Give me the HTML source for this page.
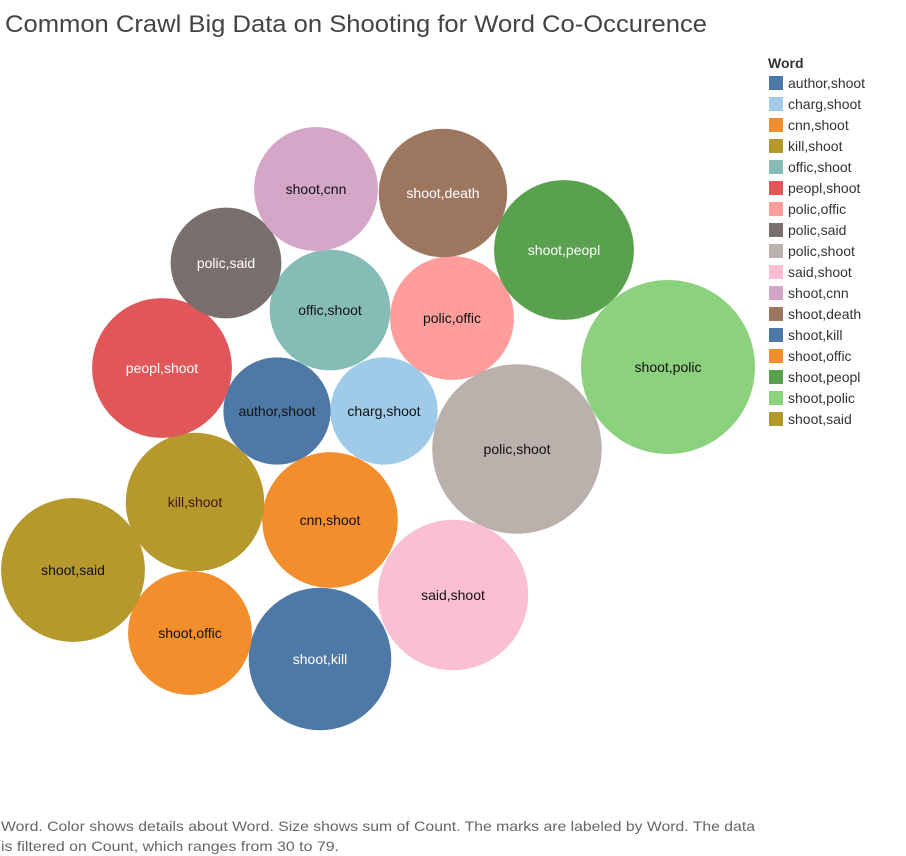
<!DOCTYPE html>
<html><head><meta charset="utf-8">
<style>
body{margin:0;background:#fff;width:906px;height:856px;overflow:hidden;font-family:"Liberation Sans",Arial,sans-serif;}
svg{display:block}
</style></head>
<body>
<svg id="chart" width="906" height="856" viewBox="0 0 906 856">
<text x="5" y="32" font-size="24" fill="#444" textLength="702" lengthAdjust="spacingAndGlyphs" font-family="Liberation Sans, sans-serif">Common Crawl Big Data on Shooting for Word Co-Occurence</text>
<g id="bubbles"></g>
<g id="legend">
<text x="768" y="68" font-size="14" font-weight="bold" fill="#333">Word</text>
</g>
<text x="1" y="831" font-size="14" fill="#666" textLength="754" lengthAdjust="spacingAndGlyphs">Word.  Color shows details about Word.  Size shows sum of Count.  The marks are labeled by Word. The data</text>
<text x="1" y="851" font-size="14" fill="#666" textLength="338" lengthAdjust="spacingAndGlyphs">is filtered on Count, which ranges from 30 to 79.</text>
</svg>
<script>
const words = ["author,shoot","charg,shoot","cnn,shoot","kill,shoot","offic,shoot","peopl,shoot","polic,offic","polic,said","polic,shoot","said,shoot","shoot,cnn","shoot,death","shoot,kill","shoot,offic","shoot,peopl","shoot,polic","shoot,said"];
const counts = [30,30,48,50,38,51,40,32,75,59,40,43,53,40,51,79,54];
const colors = ["#4E79A7","#A0CBE8","#F28E2B","#B6992D","#86BCB6","#E15759","#FF9D9A","#79706E","#BAB0AC","#FABFD2","#D4A6C8","#9D7660","#4E79A7","#F28E2B","#59A14F","#8CD17D","#B6992D"];
const labelColors = ["#111","#111","#111","#3a1a00","#111","#fff","#111","#fff","#111","#111","#111","#fff","#fff","#111","#fff","#111","#111"];
// layout (packing positions), not data
const layoutX = [277,384,330,195,330,162,452,226,517,453,316,443,320,190,564,668,73];
const layoutY = [411,411,520,502,310,368,318,263,449,595,189,193,659,633,250,367,570];
const NS="http://www.w3.org/2000/svg";
function rScale(v){return 9.79*Math.sqrt(v);}
const g=document.getElementById('bubbles');
words.forEach((w,i)=>{
  const c=document.createElementNS(NS,'circle');
  c.setAttribute('cx',layoutX[i]);c.setAttribute('cy',layoutY[i]);
  c.setAttribute('r',rScale(counts[i]));c.setAttribute('fill',colors[i]);
  
  
  g.appendChild(c);
});
words.forEach((w,i)=>{
  const t=document.createElementNS(NS,'text');
  t.setAttribute('x',layoutX[i]);t.setAttribute('y',layoutY[i]+5);
  t.setAttribute('text-anchor','middle');t.setAttribute('font-size','14');
  t.setAttribute('fill',labelColors[i]);t.textContent=w;
  
  
  g.appendChild(t);
});
const lg=document.getElementById('legend');
words.forEach((w,i)=>{
  const y=76+i*21;
  const r=document.createElementNS(NS,'rect');
  r.setAttribute('x',769);r.setAttribute('y',y);r.setAttribute('width',14);r.setAttribute('height',14);
  r.setAttribute('fill',colors[i]);
  
  
  lg.appendChild(r);
  const t=document.createElementNS(NS,'text');
  t.setAttribute('x',788);t.setAttribute('y',y+12);t.setAttribute('font-size','14');t.setAttribute('fill','#333');
  t.textContent=w;
  
  
  lg.appendChild(t);
});
</script>
</body></html>
